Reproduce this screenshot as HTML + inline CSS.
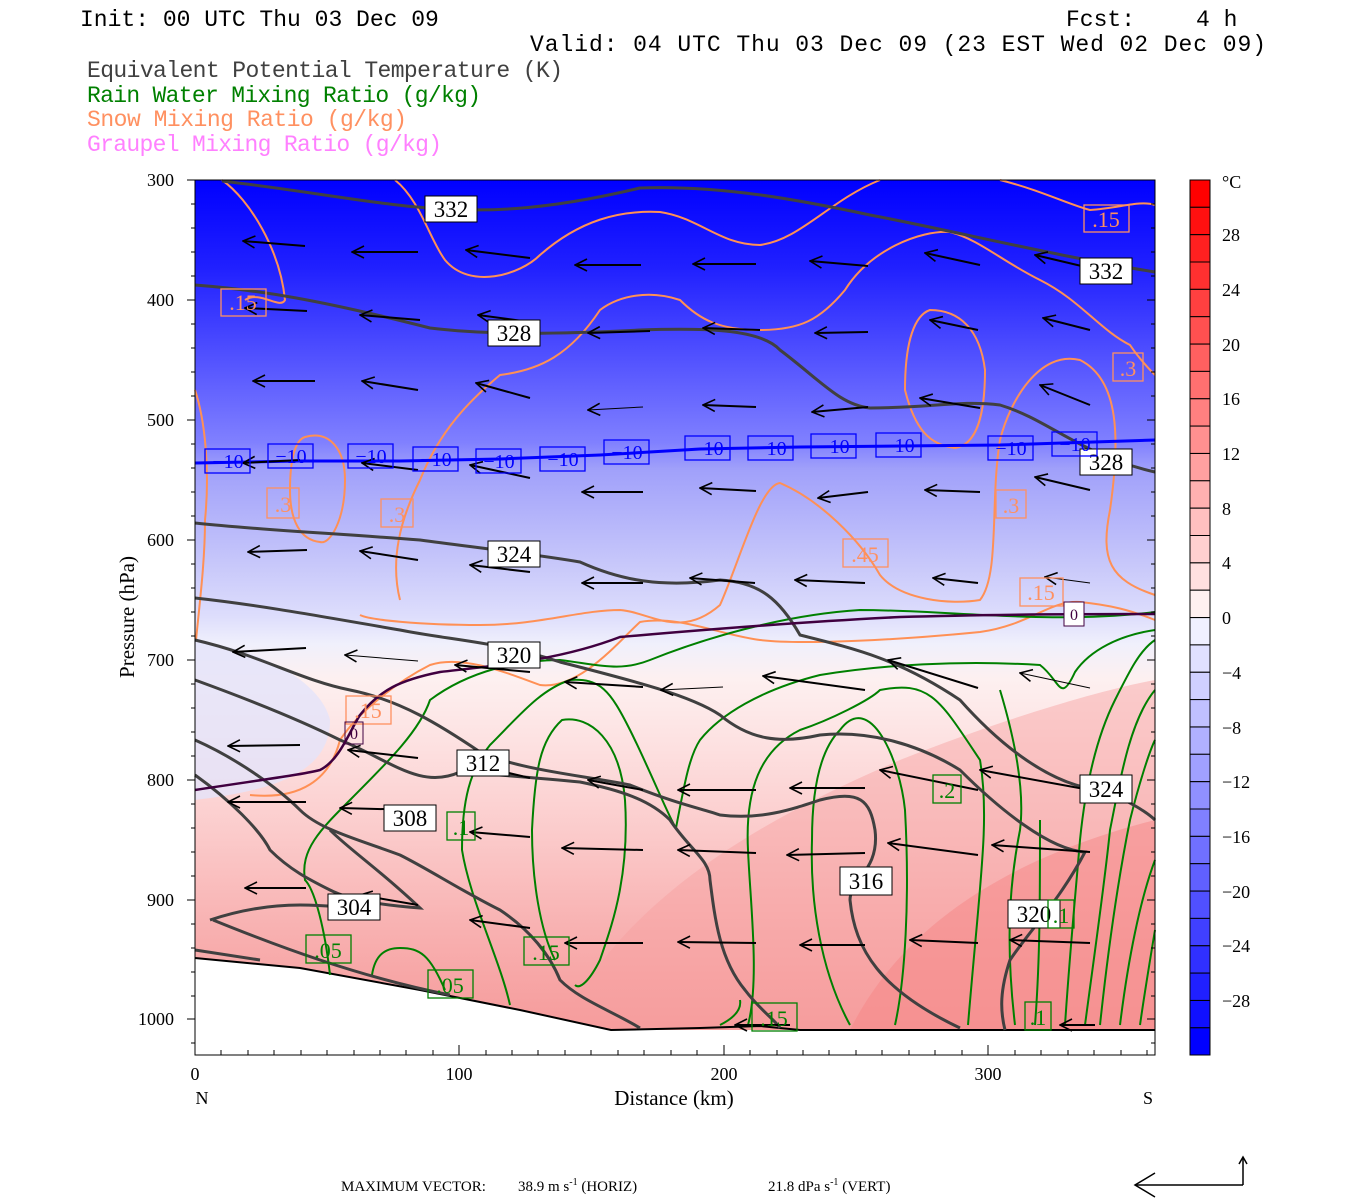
<!DOCTYPE html>
<html><head><meta charset="utf-8"><style>
html,body{margin:0;padding:0;background:#fff;width:1350px;height:1200px;overflow:hidden}
svg{display:block}
text{font-family:"Liberation Serif",serif}
.t{font-family:"Liberation Mono",monospace;font-size:23px}
</style></head><body>
<svg width="1350" height="1200" viewBox="0 0 1350 1200" xmlns="http://www.w3.org/2000/svg">
<defs>
<linearGradient id="bg" x1="0" y1="180" x2="0" y2="1055" gradientUnits="userSpaceOnUse">
<stop offset="0" stop-color="#0000ff"/>
<stop offset="0.1" stop-color="#2020ff"/>
<stop offset="0.2" stop-color="#5050ff"/>
<stop offset="0.3" stop-color="#8080ff"/>
<stop offset="0.33" stop-color="#a0a0fa"/>
<stop offset="0.43" stop-color="#c4c4fa"/>
<stop offset="0.5" stop-color="#dedefc"/>
<stop offset="0.53" stop-color="#f0f0fc"/>
<stop offset="0.57" stop-color="#fdf0f0"/>
<stop offset="0.65" stop-color="#fde0e0"/>
<stop offset="0.75" stop-color="#fbcaca"/>
<stop offset="0.86" stop-color="#f8b0b0"/>
<stop offset="1" stop-color="#f59595"/>
</linearGradient>
<marker id="ah" markerWidth="14" markerHeight="14" refX="1" refY="7" orient="auto" markerUnits="userSpaceOnUse">
<polyline points="13,1 1,7 13,13" fill="none" stroke="#000" stroke-width="1.6"/>
</marker>
</defs>

<!-- titles -->
<text class="t" x="80" y="26">Init: 00 UTC Thu 03 Dec 09</text>
<text class="t" x="1066" y="26">Fcst:</text>
<text class="t" x="1196" y="26">4 h</text>
<text class="t" x="530" y="51" textLength="736">Valid: 04 UTC Thu 03 Dec 09 (23 EST Wed 02 Dec 09)</text>
<text class="t" x="87" y="77" fill="#404040" textLength="476">Equivalent Potential Temperature (K)</text>
<text class="t" x="87" y="102" fill="#008000" textLength="394">Rain Water Mixing Ratio (g/kg)</text>
<text class="t" x="87" y="126" fill="#ff9060" textLength="320">Snow Mixing Ratio (g/kg)</text>
<text class="t" x="87" y="151" fill="#ff80ff" textLength="355">Graupel Mixing Ratio (g/kg)</text>

<!-- plot background -->
<rect x="195" y="180" width="960" height="875" fill="url(#bg)"/>
<path d="M195,640 C260,650 320,680 330,720 C330,770 280,790 195,800 Z" fill="#e4e4fa" opacity="0.8"/>
<path d="M560,1030 C620,900 760,820 900,760 C1000,720 1100,690 1155,680 L1155,1030 Z" fill="#f7a0a0" opacity="0.45"/>
<path d="M850,1030 C900,930 1000,860 1155,820 L1155,1030 Z" fill="#f58585" opacity="0.5"/>
<!-- ground -->
<path d="M195,958 L300,968 L420,990 L520,1010 L611,1030 L700,1030 L1155,1030 L1155,1055 L195,1055 Z" fill="#fff"/>
<polyline points="195,958 300,968 420,990 520,1010 611,1030 700,1028 760,1026 800,1030 1155,1030" fill="none" stroke="#000" stroke-width="2"/>

<!-- snow (orange) -->
<g fill="none" stroke="#ff9055" stroke-width="2">
<path d="M222,180 C250,200 280,250 285,300 C280,310 260,290 245,300"/>
<path d="M395,180 C420,200 430,240 445,260 C470,290 520,275 540,255 C580,220 620,210 660,212 C700,218 720,245 760,245 C800,240 830,200 880,180"/>
<path d="M195,390 C205,420 210,470 205,520 C205,560 200,600 196,640"/>
<path d="M305,437 C330,430 345,450 345,480 C345,520 330,545 320,542 C300,540 290,520 290,490 C290,460 295,440 305,437 Z"/>
<path d="M400,600 C390,560 400,520 420,480 C440,430 470,400 500,375 C540,370 570,355 600,310 C620,295 650,290 680,300 C700,320 720,330 760,330 C800,330 820,320 845,290 C870,250 920,230 950,232 C980,240 1000,260 1040,280 C1080,300 1100,330 1130,345 C1140,360 1150,370 1155,375"/>
<path d="M360,615 C370,620 420,625 480,625 C540,625 580,610 620,610 C650,612 680,640 720,605 C740,560 760,485 780,483 C820,500 860,540 880,575 C900,600 950,605 980,600 C1000,575 990,500 1000,440 C1010,400 1040,350 1080,360 C1120,380 1120,440 1110,510 C1100,560 1110,580 1155,595"/>
<path d="M930,310 C960,310 980,330 985,370 C985,420 975,445 955,448 C930,445 915,430 905,390 C905,340 915,315 930,310 Z"/>
<path d="M1000,180 C1040,190 1070,205 1090,210 C1120,208 1140,200 1155,205"/>
<path d="M250,795 C300,800 330,780 340,740 C360,710 400,680 430,665 C460,655 500,670 540,685 C580,690 620,640 640,622 C680,615 720,635 760,640 C800,645 900,640 980,632 C1030,625 1050,600 1080,602 C1110,605 1130,610 1155,620"/>
</g>

<!-- rain (green) -->
<g fill="none" stroke="#008000" stroke-width="2">
<path d="M330,975 C325,930 315,890 305,880 C300,850 320,830 350,800 C390,760 420,730 430,700 C470,670 520,660 560,660 C600,665 620,672 650,660 C700,640 780,615 860,610 C950,610 1050,625 1155,612"/>
<path d="M372,975 C375,955 385,948 400,948 C420,948 430,955 445,990"/>
<path d="M510,1005 C500,960 470,900 462,850 C462,800 470,770 490,745 C520,715 540,690 570,680 C600,678 610,690 630,730 C650,770 670,820 676,828 C685,780 690,755 700,740 C720,715 760,690 820,675 C880,665 960,660 1040,665 C1060,680 1060,705 1075,672 C1090,650 1120,635 1155,630"/>
<path d="M555,960 C540,930 532,880 532,830 C535,770 540,740 562,720 C590,715 620,740 625,800 C630,880 610,930 600,960 C590,980 580,990 575,985"/>
<path d="M720,1025 C730,1020 742,1012 740,1000"/>
<path d="M748,1025 C760,980 750,900 748,850 C745,790 760,750 800,730 C830,720 870,700 880,690 C930,680 940,700 980,760 C990,820 980,880 968,1025"/>
<path d="M850,1025 C820,970 810,900 812,840 C812,790 820,750 840,730 C870,690 900,760 905,810 C910,900 905,980 895,1025"/>
<path d="M1015,1025 C1005,940 1010,880 1020,830 C1025,790 1015,740 1000,690"/>
<path d="M1035,1025 C1040,960 1040,900 1040,820"/>
<path d="M1065,1025 C1070,950 1075,900 1080,840 C1085,790 1095,740 1115,700 C1130,670 1140,650 1155,640"/>
<path d="M1085,1025 C1095,950 1105,880 1110,830 C1120,780 1130,720 1155,690"/>
<path d="M1100,1025 C1108,950 1118,880 1130,820 C1140,780 1150,750 1155,740"/>
<path d="M1120,1025 C1128,960 1140,900 1155,860"/>
<path d="M1140,1025 C1145,990 1150,960 1155,930"/>
</g>

<!-- theta-e (gray) -->
<g fill="none" stroke="#404040" stroke-width="3">
<path d="M222,181 C300,190 380,205 430,208 C480,212 540,212 640,188 C720,185 800,200 870,215 C950,230 1050,255 1155,272"/>
<path d="M195,285 C260,290 320,300 430,328 C480,334 540,335 640,330 C700,328 760,328 780,350 C820,380 840,405 870,408 C930,408 960,400 1000,405 C1050,420 1080,455 1155,472"/>
<path d="M195,523 C260,530 330,533 420,540 C480,548 540,555 580,562 C620,580 660,588 720,580 C760,582 780,600 800,635 C860,650 900,660 960,700 C1000,745 1050,785 1100,790 C1130,800 1150,815 1155,820"/>
<path d="M195,598 C260,605 330,618 400,630 C450,640 500,642 560,662 C630,680 690,695 720,715 C750,740 780,744 820,735 C870,730 920,745 960,770 C1000,810 1050,850 1085,852 C1060,900 1030,930 1010,960 C1000,990 1000,1010 1005,1030"/>
<path d="M195,640 C260,655 300,680 350,690 C400,700 440,725 480,752 C520,770 580,775 630,785 C680,805 700,808 720,815 C760,820 790,810 820,800 C860,790 870,800 875,830 C880,870 850,880 850,900 C855,950 880,990 960,1028"/>
<path d="M195,680 C250,700 300,720 340,740 C390,760 420,790 460,772 C500,775 540,778 580,782 C620,790 650,800 670,820 C690,850 710,860 710,880 C715,920 720,960 745,990 C760,1010 775,1020 780,1028"/>
<path d="M195,740 C240,760 280,790 300,810 C320,830 360,840 400,855 C430,870 460,890 500,910 C530,930 550,955 560,980 C580,1000 610,1010 640,1028"/>
<path d="M195,775 C230,800 260,830 270,850 C290,870 310,880 330,890 C350,900 380,905 420,908 C380,870 350,850 330,830"/>
<path d="M210,920 C240,910 270,905 300,905 C330,905 340,908 355,908"/>
<path d="M213,920 C250,935 290,950 320,960 C350,970 400,985 450,995"/>
<path d="M195,950 L260,960"/>
</g>

<!-- -10 line -->
<polyline points="195,463 300,461 400,461 500,459 600,455 700,449 800,447 900,446 1000,445 1155,440" fill="none" stroke="#0000ff" stroke-width="3"/>
<!-- 0 line -->
<path d="M195,790 C260,780 300,775 320,770 C340,760 350,730 360,715 C380,690 400,680 440,672 C500,665 560,660 620,637 C700,630 800,622 900,617 C1000,614 1100,614 1155,614" fill="none" stroke="#400040" stroke-width="2.5"/>

<!-- wind arrows -->
<g stroke="#000" stroke-width="2" marker-start="url(#ah)">
<line x1="243" y1="241" x2="305" y2="246"/><line x1="352" y1="252" x2="418" y2="252"/><line x1="466" y1="250" x2="530" y2="258"/><line x1="575" y1="265" x2="641" y2="265"/><line x1="693" y1="264" x2="756" y2="264"/><line x1="810" y1="261" x2="868" y2="266"/><line x1="925" y1="253" x2="980" y2="265"/><line x1="1035" y1="255" x2="1090" y2="268"/>
<line x1="245" y1="308" x2="307" y2="311"/><line x1="360" y1="315" x2="420" y2="320"/><line x1="478" y1="315" x2="530" y2="322"/><line x1="588" y1="333" x2="650" y2="331"/><line x1="703" y1="328" x2="760" y2="330"/><line x1="815" y1="333" x2="868" y2="332"/><line x1="930" y1="320" x2="978" y2="330"/><line x1="1043" y1="318" x2="1090" y2="330"/>
<line x1="253" y1="381" x2="315" y2="381"/><line x1="362" y1="381" x2="418" y2="390"/><line x1="476" y1="383" x2="530" y2="398"/><line x1="588" y1="410" x2="643" y2="407" stroke-width="1"/><line x1="703" y1="405" x2="756" y2="407"/><line x1="812" y1="412" x2="868" y2="407"/><line x1="920" y1="398" x2="980" y2="408"/><line x1="1040" y1="385" x2="1090" y2="405"/>
<line x1="243" y1="463" x2="300" y2="460"/><line x1="362" y1="463" x2="418" y2="470"/><line x1="470" y1="465" x2="530" y2="478"/><line x1="582" y1="492" x2="643" y2="492"/><line x1="700" y1="488" x2="756" y2="491"/><line x1="818" y1="498" x2="868" y2="492"/><line x1="925" y1="490" x2="980" y2="492"/><line x1="1035" y1="477" x2="1090" y2="490"/>
<line x1="248" y1="552" x2="307" y2="550"/><line x1="360" y1="551" x2="418" y2="560"/><line x1="470" y1="565" x2="530" y2="572"/><line x1="582" y1="583" x2="643" y2="583"/><line x1="690" y1="578" x2="755" y2="583"/><line x1="795" y1="580" x2="865" y2="583"/><line x1="933" y1="578" x2="978" y2="583"/><line x1="1045" y1="577" x2="1090" y2="583" stroke-width="1"/>
<line x1="233" y1="652" x2="306" y2="648"/><line x1="345" y1="655" x2="418" y2="661" stroke-width="1"/><line x1="455" y1="665" x2="530" y2="672"/><line x1="565" y1="682" x2="643" y2="687"/><line x1="661" y1="690" x2="723" y2="687" stroke-width="1"/><line x1="763" y1="676" x2="865" y2="690"/><line x1="888" y1="660" x2="978" y2="688"/><line x1="1020" y1="673" x2="1090" y2="688" stroke-width="1"/>
<line x1="228" y1="746" x2="300" y2="745"/><line x1="348" y1="750" x2="418" y2="758"/><line x1="475" y1="765" x2="530" y2="778"/><line x1="588" y1="780" x2="643" y2="790"/><line x1="678" y1="790" x2="756" y2="790"/><line x1="790" y1="788" x2="865" y2="788"/><line x1="880" y1="770" x2="978" y2="790"/><line x1="980" y1="770" x2="1090" y2="790"/>
<line x1="228" y1="802" x2="306" y2="802"/><line x1="340" y1="808" x2="418" y2="810"/><line x1="470" y1="832" x2="530" y2="837"/><line x1="562" y1="848" x2="643" y2="850"/><line x1="678" y1="850" x2="756" y2="853"/><line x1="787" y1="855" x2="865" y2="853"/><line x1="888" y1="843" x2="978" y2="855"/><line x1="992" y1="845" x2="1090" y2="852"/>
<line x1="245" y1="888" x2="306" y2="888"/><line x1="360" y1="895" x2="418" y2="905"/><line x1="470" y1="920" x2="530" y2="928"/><line x1="565" y1="943" x2="643" y2="943"/><line x1="678" y1="942" x2="756" y2="943"/><line x1="800" y1="945" x2="865" y2="945"/><line x1="910" y1="940" x2="978" y2="943"/><line x1="1010" y1="940" x2="1090" y2="943"/>
<line x1="735" y1="1025" x2="790" y2="1025"/><line x1="1060" y1="1025" x2="1095" y2="1025"/>
</g>

<!-- labels: theta-e -->
<g font-size="23" text-anchor="middle">
<g fill="#fff" stroke="#000" stroke-width="1">
<rect x="425" y="196" width="52" height="26"/><rect x="488" y="320" width="52" height="26"/><rect x="488" y="541" width="52" height="26"/><rect x="488" y="642" width="52" height="26"/>
<rect x="457" y="750" width="52" height="26"/><rect x="384" y="805" width="52" height="26"/><rect x="328" y="894" width="52" height="26"/><rect x="840" y="867" width="52" height="28"/>
<rect x="1008" y="900" width="52" height="28"/><rect x="1080" y="775" width="52" height="28"/><rect x="1080" y="258" width="52" height="26"/><rect x="1080" y="449" width="52" height="26"/>
</g>
<g fill="#000">
<text x="451" y="217">332</text><text x="514" y="341">328</text><text x="514" y="562">324</text><text x="514" y="663">320</text>
<text x="483" y="771">312</text><text x="410" y="826">308</text><text x="354" y="915">304</text><text x="866" y="889">316</text>
<text x="1034" y="922">320</text><text x="1106" y="797">324</text><text x="1106" y="279">332</text><text x="1106" y="470">328</text>
</g>
</g>
<!-- -10 labels -->
<g font-size="20" fill="#0000ff" text-anchor="middle">
<g fill="none" stroke="#0000ff" stroke-width="1.3">
<rect x="205" y="449" width="45" height="24"/><rect x="268" y="444" width="45" height="24"/><rect x="348" y="444" width="45" height="24"/><rect x="413" y="447" width="45" height="24"/><rect x="476" y="449" width="45" height="24"/><rect x="540" y="447" width="45" height="24"/><rect x="604" y="440" width="45" height="24"/><rect x="685" y="436" width="45" height="24"/><rect x="748" y="436" width="45" height="24"/><rect x="811" y="434" width="45" height="24"/><rect x="876" y="433" width="45" height="24"/><rect x="988" y="436" width="45" height="24"/><rect x="1052" y="432" width="45" height="24"/>
</g>
<text x="228" y="468">−10</text><text x="291" y="463">−10</text><text x="371" y="463">−10</text><text x="436" y="466">−10</text><text x="499" y="468">−10</text><text x="563" y="466">−10</text><text x="627" y="459">−10</text><text x="708" y="455">−10</text><text x="771" y="455">−10</text><text x="834" y="453">−10</text><text x="899" y="452">−10</text><text x="1011" y="455">−10</text><text x="1075" y="451">−10</text>
</g>
<!-- snow labels -->
<g font-size="22" fill="#ff9060" text-anchor="middle">
<g fill="none" stroke="#ff9060" stroke-width="1.3">
<rect x="221" y="289" width="45" height="27"/><rect x="267" y="488" width="32" height="30"/><rect x="381" y="499" width="32" height="28"/><rect x="843" y="539" width="45" height="28"/><rect x="996" y="490" width="30" height="28"/><rect x="1020" y="578" width="43" height="28"/><rect x="1084" y="205" width="45" height="27"/><rect x="1113" y="353" width="30" height="28"/><rect x="346" y="696" width="45" height="28"/>
</g>
<text x="243" y="310">.15</text><text x="283" y="512">.3</text><text x="397" y="522">.3</text><text x="865" y="562">.45</text><text x="1011" y="513">.3</text><text x="1041" y="600">.15</text><text x="1106" y="227">.15</text><text x="1128" y="376">.3</text><text x="368" y="718">.15</text>
</g>
<!-- 0 labels -->
<g font-size="16" fill="#400040" text-anchor="middle">
<rect x="1064" y="602" width="20" height="24" fill="#fff" stroke="#400040"/><text x="1074" y="620">0</text>
<rect x="345" y="722" width="18" height="22" fill="none" stroke="#400040"/><text x="354" y="739">0</text>
</g>
<!-- rain labels -->
<g font-size="22" fill="#008000" text-anchor="middle">
<g fill="none" stroke="#008000" stroke-width="1.3">
<rect x="306" y="935" width="45" height="28"/><rect x="428" y="970" width="45" height="28"/><rect x="524" y="937" width="45" height="28"/><rect x="447" y="812" width="28" height="28"/><rect x="933" y="775" width="28" height="28"/><rect x="1048" y="900" width="26" height="28"/><rect x="752" y="1003" width="45" height="28"/><rect x="1025" y="1002" width="26" height="28"/>
</g>
<text x="328" y="958">.05</text><text x="450" y="993">.05</text><text x="546" y="960">.15</text><text x="461" y="835">.1</text><text x="947" y="798">.2</text><text x="1061" y="923">.1</text><text x="774" y="1026">.15</text><text x="1038" y="1025">.1</text>
</g>

<!-- frame and ticks -->
<rect x="195" y="180" width="960" height="875" fill="none" stroke="#000" stroke-width="1"/>
<g stroke="#000" stroke-width="1">
<path d="M195,180h-8M195,300h-8M195,420h-8M195,540h-8M195,660h-8M195,780h-8M195,900h-8M195,1019h-8"/>
<path d="M195,204h-4M195,228h-4M195,252h-4M195,276h-4M195,324h-4M195,348h-4M195,372h-4M195,396h-4M195,444h-4M195,468h-4M195,492h-4M195,516h-4M195,564h-4M195,588h-4M195,612h-4M195,636h-4M195,684h-4M195,708h-4M195,732h-4M195,756h-4M195,804h-4M195,828h-4M195,852h-4M195,876h-4M195,924h-4M195,948h-4M195,972h-4M195,996h-4M195,1043h-4"/>
<path d="M1155,204h-4M1155,228h-4M1155,252h-4M1155,276h-4M1155,300h-8M1155,324h-4M1155,348h-4M1155,372h-4M1155,396h-4M1155,420h-8M1155,444h-4M1155,468h-4M1155,492h-4M1155,516h-4M1155,540h-8M1155,564h-4M1155,588h-4M1155,612h-4M1155,636h-4M1155,660h-8M1155,684h-4M1155,708h-4M1155,732h-4M1155,756h-4M1155,780h-8M1155,804h-4M1155,828h-4M1155,852h-4M1155,876h-4M1155,900h-8M1155,924h-4M1155,948h-4M1155,972h-4M1155,996h-4M1155,1019h-8M1155,1043h-4"/>
<path d="M459,1055v-10M724,1055v-10M988,1055v-10"/>
<path d="M221,1055v-5M248,1055v-5M274,1055v-5M301,1055v-5M327,1055v-5M354,1055v-5M380,1055v-5M406,1055v-5M433,1055v-5M486,1055v-5M512,1055v-5M538,1055v-5M565,1055v-5M591,1055v-5M618,1055v-5M644,1055v-5M671,1055v-5M697,1055v-5M750,1055v-5M777,1055v-5M803,1055v-5M829,1055v-5M856,1055v-5M882,1055v-5M909,1055v-5M935,1055v-5M962,1055v-5M1015,1055v-5M1041,1055v-5M1068,1055v-5M1094,1055v-5M1121,1055v-5M1147,1055v-5"/>
</g>
<g font-size="18" text-anchor="end">
<text x="174" y="186">300</text><text x="174" y="306">400</text><text x="174" y="426">500</text><text x="174" y="546">600</text><text x="174" y="666">700</text><text x="174" y="786">800</text><text x="174" y="906">900</text><text x="174" y="1025">1000</text>
</g>
<g font-size="18" text-anchor="middle">
<text x="195" y="1080">0</text><text x="459" y="1080">100</text><text x="724" y="1080">200</text><text x="988" y="1080">300</text>
<text x="202" y="1104">N</text><text x="1148" y="1104">S</text>
</g>
<text x="674" y="1105" font-size="21" text-anchor="middle">Distance (km)</text>
<text transform="translate(134,617) rotate(-90)" font-size="21" text-anchor="middle">Pressure (hPa)</text>

<!-- colorbar -->
<g stroke="#000" stroke-width="1">
<rect x="1190" y="180.0" width="20" height="27.3" fill="rgb(255,0,0)"/><rect x="1190" y="207.3" width="20" height="27.3" fill="rgb(255,16,16)"/><rect x="1190" y="234.7" width="20" height="27.3" fill="rgb(255,32,32)"/><rect x="1190" y="262.0" width="20" height="27.3" fill="rgb(255,48,48)"/><rect x="1190" y="289.4" width="20" height="27.3" fill="rgb(255,64,64)"/><rect x="1190" y="316.7" width="20" height="27.3" fill="rgb(255,80,80)"/><rect x="1190" y="344.1" width="20" height="27.3" fill="rgb(255,96,96)"/><rect x="1190" y="371.4" width="20" height="27.3" fill="rgb(255,112,112)"/><rect x="1190" y="398.8" width="20" height="27.3" fill="rgb(255,128,128)"/><rect x="1190" y="426.1" width="20" height="27.3" fill="rgb(255,144,144)"/><rect x="1190" y="453.5" width="20" height="27.3" fill="rgb(255,160,160)"/><rect x="1190" y="480.8" width="20" height="27.3" fill="rgb(255,176,176)"/><rect x="1190" y="508.2" width="20" height="27.3" fill="rgb(255,192,192)"/><rect x="1190" y="535.5" width="20" height="27.3" fill="rgb(255,208,208)"/><rect x="1190" y="562.9" width="20" height="27.3" fill="rgb(255,224,224)"/><rect x="1190" y="590.2" width="20" height="27.3" fill="rgb(255,240,240)"/>
<rect x="1190" y="617.6" width="20" height="27.3" fill="rgb(240,240,255)"/><rect x="1190" y="644.9" width="20" height="27.3" fill="rgb(224,224,255)"/><rect x="1190" y="672.3" width="20" height="27.3" fill="rgb(208,208,255)"/><rect x="1190" y="699.6" width="20" height="27.3" fill="rgb(192,192,255)"/><rect x="1190" y="727.0" width="20" height="27.3" fill="rgb(176,176,255)"/><rect x="1190" y="754.3" width="20" height="27.3" fill="rgb(160,160,255)"/><rect x="1190" y="781.7" width="20" height="27.3" fill="rgb(144,144,255)"/><rect x="1190" y="809.0" width="20" height="27.3" fill="rgb(128,128,255)"/><rect x="1190" y="836.4" width="20" height="27.3" fill="rgb(112,112,255)"/><rect x="1190" y="863.7" width="20" height="27.3" fill="rgb(96,96,255)"/><rect x="1190" y="891.1" width="20" height="27.3" fill="rgb(80,80,255)"/><rect x="1190" y="918.4" width="20" height="27.3" fill="rgb(64,64,255)"/><rect x="1190" y="945.8" width="20" height="27.3" fill="rgb(48,48,255)"/><rect x="1190" y="973.1" width="20" height="27.3" fill="rgb(32,32,255)"/><rect x="1190" y="1000.5" width="20" height="27.3" fill="rgb(16,16,255)"/><rect x="1190" y="1027.8" width="20" height="27.2" fill="rgb(0,0,255)"/>
</g>
<g font-size="18">
<text x="1222" y="188">°C</text>
<text x="1222" y="241">28</text><text x="1222" y="296">24</text><text x="1222" y="351">20</text><text x="1222" y="405">16</text><text x="1222" y="460">12</text><text x="1222" y="515">8</text><text x="1222" y="569">4</text><text x="1222" y="624">0</text>
<text x="1222" y="679">−4</text><text x="1222" y="734">−8</text><text x="1222" y="788">−12</text><text x="1222" y="843">−16</text><text x="1222" y="898">−20</text><text x="1222" y="952">−24</text><text x="1222" y="1007">−28</text>
</g>

<!-- footer -->
<g font-size="15">
<text x="341" y="1191">MAXIMUM VECTOR:</text>
<text x="518" y="1191">38.9 m s<tspan dy="-6" font-size="10">-1</tspan><tspan dy="6"> (HORIZ)</tspan></text>
<text x="768" y="1191">21.8 dPa s<tspan dy="-6" font-size="10">-1</tspan><tspan dy="6"> (VERT)</tspan></text>
</g>
<g stroke="#000" stroke-width="1.5" fill="none">
<line x1="1135" y1="1185" x2="1243" y2="1185"/><polyline points="1155,1173 1135,1185 1155,1197"/>
<line x1="1243" y1="1185" x2="1243" y2="1158"/><polyline points="1239,1164 1243,1157 1247,1164"/>
</g>
</svg>
</body></html>
